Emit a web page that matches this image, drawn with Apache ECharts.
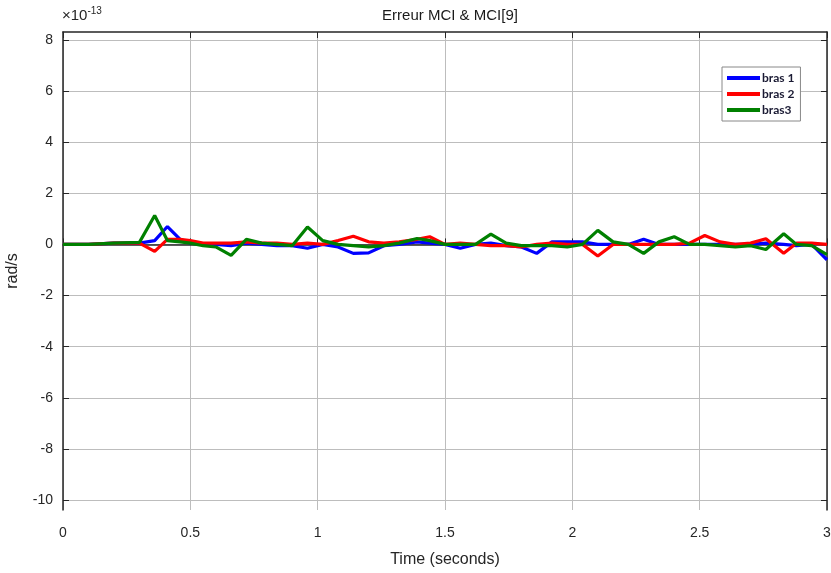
<!DOCTYPE html>
<html>
<head>
<meta charset="utf-8">
<script src="https://cdn.jsdelivr.net/npm/echarts@6/dist/echarts.min.js"></script>
<style>html,body{margin:0;padding:0;background:#fff}#c{width:831px;height:573px}</style>
</head>
<body>
<div id="c"></div>
<script>
// time samples (seconds)
const time = [0, 0.1, 0.2, 0.3, 0.36, 0.41, 0.46, 0.5, 0.55, 0.6, 0.66, 0.72, 0.78, 0.84, 0.9, 0.96, 1.02, 1.08, 1.14, 1.2, 1.26, 1.32, 1.39, 1.44, 1.5, 1.56, 1.62, 1.68, 1.74, 1.8, 1.86, 1.92, 1.98, 2.04, 2.1, 2.16, 2.22, 2.28, 2.34, 2.4, 2.46, 2.52, 2.58, 2.64, 2.7, 2.76, 2.83, 2.88, 2.94, 3.0];
// errors in units of 1e-13 rad/s
const bras1 = [0, 0, 0.05, 0.05, 0.15, 0.7, 0.2, 0.05, 0, 0, -0.05, 0.05, 0, -0.05, -0.05, -0.15, 0, -0.1, -0.35, -0.33, -0.05, 0, 0.1, 0.05, 0, -0.15, 0, 0.05, -0.05, -0.1, -0.35, 0.1, 0.1, 0.1, 0, 0, 0, 0.2, 0, 0, 0, 0, 0, 0, 0, 0.05, 0, -0.05, 0, -0.6];
const bras2 = [0, 0, 0.05, 0.05, -0.27, 0.2, 0.2, 0.15, 0.05, 0.05, 0.05, 0.1, 0.05, 0.05, 0, 0.05, 0, 0.15, 0.32, 0.1, 0.05, 0.1, 0.2, 0.3, 0, 0.05, 0, -0.05, -0.05, -0.1, 0, 0.05, 0, 0, -0.45, 0, 0, 0, 0, 0, 0.05, 0.35, 0.1, 0, 0.05, 0.22, -0.35, 0.05, 0.05, 0];
const bras3 = [0, 0, 0.05, 0.08, 1.13, 0.15, 0.1, 0.05, -0.05, -0.1, -0.43, 0.2, 0.05, 0, -0.05, 0.68, 0.15, 0, -0.05, -0.1, -0.05, 0.05, 0.23, 0.15, 0, 0, 0, 0.4, 0.05, -0.05, -0.05, -0.05, -0.1, 0, 0.55, 0.1, 0, -0.35, 0.1, 0.3, 0, 0, -0.05, -0.1, -0.05, -0.2, 0.42, 0, -0.05, -0.4];
const seriesNames = ['bras 1', 'bras 2', 'bras3'];
const yTicks = [-10, -8, -6, -4, -2, 0, 2, 4, 6, 8];
const xTicks = [0, 0.5, 1, 1.5, 2, 2.5, 3];

const pair = arr => time.map((t, i) => [t, arr[i]]);
const chart = echarts.init(document.getElementById('c'));
const axisCol = '#262626';
const font = 'Liberation Sans, Arial, sans-serif';
chart.setOption({
  animation: false,
  title: {
    text: 'Erreur MCI & MCI[9]', left: 445, textAlign: 'center', top: 3,
    textStyle: { fontSize: 15, fontWeight: 'normal', color: '#1a1a1a', fontFamily: font }
  },
  grid: { left: 63, right: 4, top: 32, bottom: 63, show: false, containLabel: false, outerBoundsMode: 'none' },
  legend: {
    orient: 'vertical', left: 722, top: 67,
    data: seriesNames.map(n => ({ name: n, icon: 'rect' })),
    itemWidth: 33, itemHeight: 4, itemGap: 2,
    padding: [4, 6, 4, 5],
    backgroundColor: '#fff', borderColor: '#888', borderWidth: 1,
    textStyle: { fontSize: 12, fontWeight: 'bold', color: '#1a1a33', lineHeight: 14, fontFamily: 'Lato, sans-serif', padding: [0, 0, 0, -3] }
  },
  graphic: [{
    type: 'text', left: 62, top: 6,
    style: {
      text: '{a|×10}{b|-13}', fill: '#262626',
      rich: {
        a: { fontSize: 15, fontFamily: font, fill: '#262626' },
        b: { fontSize: 10, fontFamily: font, fill: '#262626', verticalAlign: 'top', padding: [0, 0, 9, 0] }
      }
    }
  }],
  xAxis: [{
    type: 'value', min: 0, max: 3, interval: 0.5,
    name: 'Time (seconds)', nameLocation: 'middle', nameGap: 42,
    nameTextStyle: { fontSize: 16, color: '#262626', fontFamily: font },
    axisLine: { lineStyle: { color: axisCol, width: 1.5 } },
    axisTick: { inside: true, length: 6, lineStyle: { color: axisCol } },
    axisLabel: { margin: 16, fontSize: 14, color: '#262626', fontFamily: font },
    splitLine: { show: true, lineStyle: { color: '#bdbdbd', width: 1 } }
  }, {
    type: 'value', min: 0, max: 3, interval: 0.5, position: 'top',
    axisLine: { show: true, onZero: false, lineStyle: { color: axisCol, width: 1.5 } },
    axisTick: { show: true, inside: true, length: 6, lineStyle: { color: axisCol } },
    axisLabel: { show: false }, splitLine: { show: false }
  }],
  yAxis: [{
    type: 'value', min: -10.39, max: 8.31,
    name: 'rad/s', nameLocation: 'middle', nameGap: 42,
    nameTextStyle: { fontSize: 16, color: '#262626', fontFamily: font },
    axisLine: { show: true, onZero: false, lineStyle: { color: axisCol, width: 1.5 } },
    axisTick: { show: true, inside: true, length: 6, customValues: yTicks, lineStyle: { color: axisCol } },
    axisLabel: { margin: 10, fontSize: 14, color: '#262626', fontFamily: font, customValues: yTicks },
    splitLine: { show: true, lineStyle: { color: '#bdbdbd', width: 1 } }
  }, {
    type: 'value', min: -10.39, max: 8.31, position: 'right',
    axisLine: { show: true, onZero: false, lineStyle: { color: axisCol, width: 1.5 } },
    axisTick: { show: true, inside: true, length: 6, customValues: yTicks, lineStyle: { color: axisCol } },
    axisLabel: { show: false, customValues: yTicks }, splitLine: { show: false }
  }],
  series: [
    { name: seriesNames[0], type: 'line', data: pair(bras1), showSymbol: false, lineStyle: { color: '#0000ff', width: 3.2 }, itemStyle: { color: '#0000ff' } },
    { name: seriesNames[1], type: 'line', data: pair(bras2), showSymbol: false, lineStyle: { color: '#ff0000', width: 3.2 }, itemStyle: { color: '#ff0000' } },
    { name: seriesNames[2], type: 'line', data: pair(bras3), showSymbol: false, lineStyle: { color: '#008000', width: 3.2 }, itemStyle: { color: '#008000' } }
  ]
});
</script>
</body>
</html>
